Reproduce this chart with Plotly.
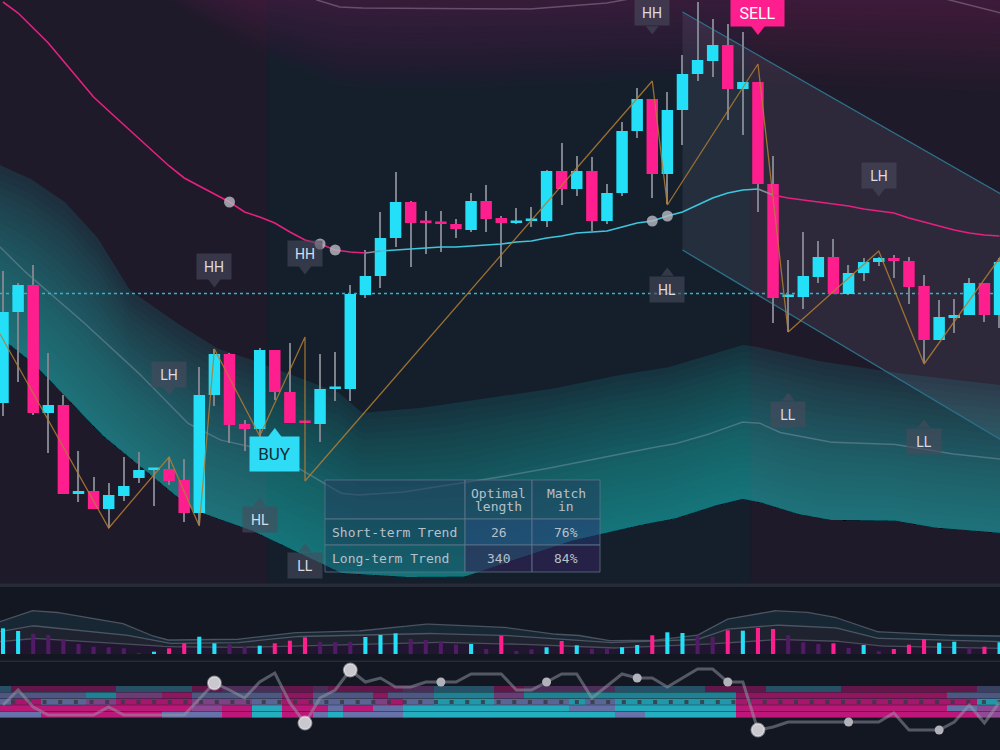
import numpy as np
import plotly.graph_objects as go

# ---------------- data ----------------
N = 67
bar_idx = list(range(N))
opens  = [197,288,315,187,195,106,109,91,104,122,130,131,120,87,205,246,176,171,250,208,178,176,211,211,305,324,362,398,378,377,376,370,399,382,377,379,379,429,411,429,379,407,469,501,426,490,526,539,555,511,518,416,303,303,323,343,306,327,338,342,339,314,260,282,285,317,285]
highs  = [329,317,335,247,205,149,123,117,143,148,131,143,141,233,251,247,180,252,250,257,178,246,248,315,350,388,428,399,389,389,381,407,415,384,392,393,430,457,444,443,416,478,512,501,508,545,598,581,576,568,518,444,340,368,359,361,335,342,343,345,343,325,300,301,322,317,342]
lows   = [184,218,185,147,106,98,91,72,99,117,94,115,78,75,194,157,149,163,200,177,177,158,199,199,302,312,353,333,346,348,362,368,368,333,376,373,373,395,404,369,376,404,462,402,396,455,519,523,480,465,388,277,268,291,317,306,305,319,334,322,296,237,260,267,285,278,272]
closes = [288,315,187,195,106,109,91,105,114,130,131,119,87,205,246,175,171,250,208,177,177,211,212,306,324,362,398,377,377,376,371,399,381,377,379,380,429,411,429,379,407,469,501,426,490,526,540,555,511,518,416,302,304,324,343,306,327,338,342,339,313,260,283,285,317,285,338]

# long-term moving average
ma = [598,587,572,557,539,521,503,489,475,461,447,434,422,414,406,398,388,383,377,368,360,356,350,348,347,349,350,351,352,353,353,354,355,356,358,359,362,364,367,368,369,373,377,379,384,388,395,402,407,410,411,405,402,400,398,396,394,391,389,387,382,378,374,370,367,365,364]
ma_dots = [15, 21, 22, 43, 44]

# zigzag swing line
zz_x = [-0.2, 7, 11, 13, 14, 17, 20, 20, 43, 44, 50, 52, 58, 61, 66.1]
zz_y = [266, 72, 143, 74, 251, 164, 263, 119, 519, 395, 536, 268, 349, 236, 344]

# support (teal) band
tu_x = [-0.2, 2.0, 4.2, 6.4, 8.4, 12.2, 14.4, 17.5, 22.3, 23.8, 28.3, 32.7, 37.1, 41.5, 44.2, 49.0, 50.1, 54.6, 61.2, 66.1]
tu_y = [435, 420, 397, 360, 310, 270, 250, 235, 207, 187, 193, 203, 213, 227, 233, 255, 253, 237, 223, 215]
tl_x = [-0.2, 2.0, 6.4, 12.6, 16.4, 22.3, 26.1, 30.5, 37.1, 41.5, 44.2, 46.8, 49.0, 50.1, 52.3, 54.6, 58.9, 61.2, 66.1]
tl_y = [263, 237, 167, 90, 70, 27, 23, 23, 57, 73, 80, 93, 101, 98, 87, 80, 80, 73, 67]
tm_x = [-0.2, 1.1, 4.2, 8.6, 12.2, 14.4, 17.5, 22.3, 23.4, 26.1, 30.5, 34.9, 38.2, 42.0, 44.2, 46.2, 49.0, 50.1, 51.3, 54.6, 58.9, 62.3, 66.1]
tm_y = [353, 333, 293, 233, 177, 160, 150, 107, 105, 107, 117, 128, 138, 150, 155, 163, 178, 177, 168, 158, 156, 147, 141]

# resistance (pink) band
pk_x = [-0.2, 10.9, 13.0, 17.5, 22.3, 26.3, 32.9, 39.5, 46.2, 52.8, 59.4, 66.1]
pk_y = [640, 600, 580, 542, 513, 510, 512, 518, 520, 515, 512, 508]
pm_x = [20.0, 20.8, 22.3, 23.8, 34.9, 40.0, 42.2, 61.9, 66.1]
pm_y = [606, 600, 593, 592, 591, 597, 603, 603, 587]

# falling channel
ch_x = [45.0, 66.1]
ch_top = [588, 406]
ch_bot = [350, 160]

level_line = 306.5

# swing labels
lab_text = ["HH", "HH", "LH", "HL", "LL", "HH", "HL", "LH", "LL", "LL"]
lab_x    = [14.0, 20.0, 11.0, 17.0, 20.0, 43.0, 44.0, 58.0, 52.0, 61.0]
lab_y    = [334, 347, 226, 81, 35, 587, 311, 425, 186, 159]
lab_dir  = ["down", "down", "down", "up", "up", "down", "up", "down", "up", "up"]

sig_text = ["BUY", "SELL"]
sig_x = [18.0, 50.0]
sig_y = [146, 587]

# volume
volume = [25.7,23,20,19,14.7,10,7.3,6.7,5.7,1,2.3,5.7,10.7,17.3,10.7,9.7,7.3,8.3,10.7,13.3,16.7,12,12,12,17,19,20.7,15,14,12.7,9.3,10,5,18.3,3,4.7,6.7,13,8.7,5.3,5.3,6.7,9,18.7,21.7,21,18,17.3,23.7,23.3,26,25,18.7,11.7,10,10.7,6,9,2.7,5,9.3,14.7,11.3,12.3,6.3,7.3,11.7]
vol_active = [1,1,0,0,0,0,0,0,0,0,1,1,1,1,1,0,0,1,1,1,1,0,0,0,1,1,1,0,0,0,0,1,0,1,0,0,1,1,1,0,0,1,1,1,1,1,0,0,1,1,1,1,0,0,0,1,0,1,0,1,1,1,1,1,0,1,1]
vu_x = [-0.2, 1.9, 3.3, 7.9, 9.7, 10.9, 15.2, 19.0, 23.0, 25.6, 27.8, 32.9, 36.2, 38.0, 40.0, 42.8, 45.9, 47.9, 51.0, 53.0, 55.0, 57.9, 61.6, 66.1]
vu_y = [32.3, 43.3, 42.3, 30.7, 19, 14, 14, 21.3, 22.3, 25.7, 30, 27.3, 20, 19, 13.3, 13.3, 18, 34.7, 43.3, 42.3, 37.3, 22.3, 19, 18]
vm_x = [-0.2, 1.9, 7.9, 10.9, 15.2, 19.0, 27.8, 32.9, 40.0, 45.9, 47.9, 51.0, 55.0, 57.9, 66.1]
vm_y = [22.3, 28.3, 19.7, 10.7, 10.7, 17.3, 20.7, 19, 11.3, 14, 24.7, 29, 26.7, 15.7, 12.3]
vl_x = [-0.2, 1.9, 7.9, 10.9, 15.2, 27.8, 32.9, 40.0, 45.9, 51.0, 55.0, 57.9, 66.1]
vl_y = [12.3, 15.7, 10.7, 7.3, 6.3, 12, 10.7, 5.7, 9, 14.7, 13.3, 8, 5.7]

# oscillator + regime heat rows
osc = [45,60,43,35,35,35,35,43,35,35,35,35,35,51,67,60,52,68,77,47,27,52,60,80,68,72,63,63,68,68,68,76,76,76,60,60,68,76,76,52,64,76,72,72,63,72,81,81,68,68,20,23,28,28,28,28,28,28,28,37,20,20,20,28,45,27,48]
osc_big = [14, 20, 23, 50]
osc_small = [29, 36, 42, 48, 56, 62]
heat_rows = [
    "TKK KKK KK TTT TT KK PP PP KK P K KK K K PP TTTT KK PPP P PP TT TTTT KK KK TTTTT KKK KKKK KK LL",
    "LLL LLL CC PPP KK LL LL LL KK L L LL K L LL CCCC PP CCC C CC CC CCCC CC KK KKKKK KKK KKKK LL LL",
    "LKK LLL PP KKK KK PP PP LL KK L L LL P K LL CCCC LL LLL C LL CC CCCC CC KK KKKKK KKK KKKK KK CC",
    "KKK KKK KK KKK KK PP KK CC KK K L KK L L CC CCCC CC CCC L LL CC CCCC CC KK KKKKK KKK KKKK LL PP",
    "LLL KKK KK KKK LL LL KK CC KK L C LL L L CC CCCC CC CCC C CC LL CCCC CC KK KKKKK KKK KKKK KK PP",
]
heat_code = {"T": 0.7, "C": 1.0, "L": 0.25, "P": -0.3, "K": -1.0}

# stats table
tbl_head = [["", ""], ["Optimal", "length"], ["Match", "in"]]
tbl_rows = ["Short-term Trend", "Long-term Trend"]
tbl_len = ["26", "340"]
tbl_match = ["76%", "84%"]

# ---------------- styling ----------------
CYAN = "#24dff8"
PINK = "#ff1e8e"
PURP = "#511c65"
WICK = "#7e828d"
XR = [-0.199, 66.03]
Y_RANGE = [15, 600]
Y_DOM = [0.22, 1.0]
W, H = 1000, 750

def to_paper(v):
    return Y_DOM[0] + (v - Y_RANGE[0]) / (Y_RANGE[1] - Y_RANGE[0]) * (Y_DOM[1] - Y_DOM[0])

fig = go.Figure()
xs = np.linspace(-0.2, 66.1, 400)

def poly(xa, lo, hi, color, xa_name="x", ya_name="y"):
    fig.add_trace(go.Scatter(x=np.concatenate([xa, xa[::-1]]), y=np.concatenate([lo, hi[::-1]]),
                             fill="toself", fillcolor=color, mode="lines", line=dict(width=0),
                             xaxis=xa_name, yaxis=ya_name, hoverinfo="skip", showlegend=False))

# pink resistance gradient (strongest at top)
pb = np.interp(xs, pk_x, pk_y)
ptop = np.full_like(xs, 640.0)
NP = 22
for k in range(NP):
    lo = pb + (ptop - pb) * k / (NP + 1.0)
    poly(xs, lo, ptop, "rgba(110,25,95,0.036)")

# teal support gradient (strongest near lower edge)
tu = np.interp(xs, tu_x, tu_y)
tl = np.interp(xs, tl_x, tl_y)
poly(xs, tl, tu, "rgba(30,175,185,0.12)")
NT = 24
for k in range(1, NT + 1):
    poly(xs, tl, tl + (tu - tl) * k / NT, "rgba(25,180,192,0.032)")

# channel
cx = np.array(ch_x)
poly(cx, np.array(ch_bot, float), np.array(ch_top, float), "rgba(195,200,230,0.09)")

# band center lines
fig.add_trace(go.Scatter(x=xs, y=np.interp(xs, tm_x, tm_y), mode="lines",
                         line=dict(color="rgba(165,175,185,0.35)", width=1.5), hoverinfo="skip", showlegend=False))
fig.add_trace(go.Scatter(x=pm_x, y=pm_y, mode="lines", line=dict(color="rgba(175,160,180,0.4)", width=1.5),
                         hoverinfo="skip", showlegend=False))
for edge in (ch_top, ch_bot):
    fig.add_trace(go.Scatter(x=ch_x, y=edge, mode="lines", line=dict(color="#2d6f88", width=1.3),
                             hoverinfo="skip", showlegend=False))
fig.add_trace(go.Scatter(x=XR, y=[level_line, level_line], mode="lines",
                         line=dict(color="#33b4cc", width=1.5, dash="dot"), hoverinfo="skip", showlegend=False))

# ---- overlay: candles ----
up = [c >= o for o, c in zip(opens, closes)]
ccol = [CYAN if u else PINK for u in up]
fig.add_trace(go.Bar(x=bar_idx, y=[h - l for h, l in zip(highs, lows)], base=lows, width=0.075,
                     marker=dict(color=WICK, line=dict(width=0)), xaxis="x", yaxis="y4",
                     hoverinfo="skip", showlegend=False))
fig.add_trace(go.Bar(x=bar_idx, y=[max(abs(c - o), 2.5) for o, c in zip(opens, closes)],
                     base=[min(o, c) for o, c in zip(opens, closes)], width=0.76,
                     marker=dict(color=ccol, line=dict(width=0)), xaxis="x", yaxis="y4",
                     hoverinfo="skip", showlegend=False))

# MA segments
segs = [(0, 24, "#e5207f"), (24, 25, "#8a8e9a"), (25, 50, "#3fc6df"), (50, 51, "#8a8e9a"), (51, 66, "#e5207f")]
for a, b, col in segs:
    fig.add_trace(go.Scatter(x=bar_idx[a:b + 1], y=ma[a:b + 1], mode="lines", line=dict(color=col, width=1.6),
                             xaxis="x", yaxis="y4", hoverinfo="skip", showlegend=False))
fig.add_trace(go.Scatter(x=ma_dots, y=[ma[i] for i in ma_dots], mode="markers",
                         marker=dict(size=11, color="rgba(185,185,195,0.8)"), xaxis="x", yaxis="y4",
                         hoverinfo="skip", showlegend=False))
fig.add_trace(go.Scatter(x=zz_x, y=zz_y, mode="lines", line=dict(color="rgba(180,125,50,0.85)", width=1.3),
                         xaxis="x", yaxis="y4", hoverinfo="skip", showlegend=False))

# labels
annotations = []
LBL_BG = "rgba(72,75,92,0.62)"
tri_x, tri_y, tri_s = [], [], []
for t, x, y, d in zip(lab_text, lab_x, lab_y, lab_dir):
    annotations.append(dict(x=x, y=to_paper(y), xref="x", yref="paper", xanchor="center", yanchor="middle",
                            text=t, showarrow=False, width=34, height=25,
                            bgcolor=LBL_BG, borderpad=0, font=dict(family="Roboto", size=14, color="#dcdce4")))
    tri_x.append(x)
    tri_y.append(y + 16 if d == "up" else y - 16)
    tri_s.append("triangle-up" if d == "up" else "triangle-down")
fig.add_trace(go.Scatter(x=tri_x, y=tri_y, mode="markers", cliponaxis=False,
                         marker=dict(symbol=tri_s, size=11, color=LBL_BG, line=dict(width=0)),
                         xaxis="x", yaxis="y4", hoverinfo="skip", showlegend=False))
annotations.append(dict(x=sig_x[0], y=to_paper(sig_y[0]), xref="x", yref="paper", xanchor="center", yanchor="middle",
                        text=sig_text[0], showarrow=False, width=49, height=34, bgcolor="#2fdcf5", borderpad=0,
                        font=dict(family="Roboto", size=17, color="#0d2c36")))
annotations.append(dict(x=sig_x[1], y=to_paper(sig_y[1]), xref="x", yref="paper", xanchor="center", yanchor="middle",
                        text=sig_text[1], showarrow=False, width=53, height=26, bgcolor="#ff1e8e", borderpad=0,
                        font=dict(family="Roboto", size=16, color="#ffffff")))
fig.add_trace(go.Scatter(x=sig_x, y=[sig_y[0] + 20, sig_y[1] - 16], mode="markers", cliponaxis=False,
                         marker=dict(symbol=["triangle-up", "triangle-down"], size=12,
                                     color=["#2fdcf5", "#ff1e8e"], line=dict(width=0)),
                         xaxis="x", yaxis="y4", hoverinfo="skip", showlegend=False))

# ---- volume panel ----
vu = np.interp(xs, vu_x, vu_y)
vm = np.interp(xs, vm_x, vm_y)
vl = np.interp(xs, vl_x, vl_y)
fig.add_trace(go.Scatter(x=xs, y=vl, mode="lines", line=dict(color="rgba(120,125,140,0.5)", width=1.3),
                         fill="tozeroy", fillcolor="rgba(80,25,95,0.22)", xaxis="x2", yaxis="y2",
                         hoverinfo="skip", showlegend=False))
fig.add_trace(go.Scatter(x=xs, y=vm, mode="lines", line=dict(color="rgba(120,125,140,0.55)", width=1.3),
                         fill="tonexty", fillcolor="rgba(60,62,80,0.30)", xaxis="x2", yaxis="y2",
                         hoverinfo="skip", showlegend=False))
fig.add_trace(go.Scatter(x=xs, y=vu, mode="lines", line=dict(color="rgba(120,125,140,0.55)", width=1.3),
                         fill="tonexty", fillcolor="rgba(30,65,80,0.40)", xaxis="x2", yaxis="y2",
                         hoverinfo="skip", showlegend=False))
vcol = [(CYAN if u else PINK) if a else PURP for u, a in zip(up, vol_active)]
fig.add_trace(go.Bar(x=bar_idx, y=volume, width=0.27, marker=dict(color=vcol, line=dict(width=0)),
                     xaxis="x2", yaxis="y5", hoverinfo="skip", showlegend=False))

# ---- oscillator panel ----
row_alpha = [0.4, 0.62, 0.75, 0.85, 0.88]
edges = np.linspace(64, 32, 6)
cs = [[0, "rgb(215,25,135)"], [0.5, "rgb(140,105,180)"], [1, "rgb(40,195,215)"]]
xe = np.arange(N + 1) - 0.5
for r, row in enumerate(heat_rows):
    s = row.replace(" ", "")
    s = (s + s[-1] * N)[:N]
    z = [[heat_code[c] for c in s]]
    fig.add_trace(go.Heatmap(x=xe, y=[edges[r + 1], edges[r]], z=z, zmin=-1, zmax=1, colorscale=cs,
                             showscale=False, opacity=row_alpha[r], xaxis="x3", yaxis="y3", hoverinfo="skip"))
sq_x = np.linspace(0.68, 66.0, 64)
fig.add_trace(go.Scatter(x=sq_x, y=[48] * len(sq_x), mode="markers",
                         marker=dict(symbol="square", size=4, color="rgba(55,58,70,0.85)"),
                         xaxis="x3", yaxis="y3", hoverinfo="skip", showlegend=False))
fig.add_trace(go.Scatter(x=bar_idx, y=osc, mode="lines", line=dict(color="rgba(150,155,168,0.5)", width=3),
                         xaxis="x3", yaxis="y3", hoverinfo="skip", showlegend=False))
fig.add_trace(go.Scatter(x=osc_big, y=[osc[i] for i in osc_big], mode="markers",
                         marker=dict(size=13, color="#c8c8ce", line=dict(width=2, color="rgba(255,255,255,0.45)")),
                         xaxis="x3", yaxis="y3", hoverinfo="skip", showlegend=False, cliponaxis=False))
fig.add_trace(go.Scatter(x=osc_small, y=[osc[i] for i in osc_small], mode="markers",
                         marker=dict(size=9, color="#b2b2ba"),
                         xaxis="x3", yaxis="y3", hoverinfo="skip", showlegend=False, cliponaxis=False))

# ---------------- layout ----------------
ax = dict(visible=False, showgrid=False, zeroline=False, range=XR, fixedrange=True)
shapes = [
    dict(type="rect", xref="x", yref="paper", x0=-0.5, x1=17.5, y0=0.22, y1=1, fillcolor="#1e1a2a", line_width=0, layer="below"),
    dict(type="rect", xref="x", yref="paper", x0=17.5, x1=49.5, y0=0.22, y1=1, fillcolor="#141f2b", line_width=0, layer="below"),
    dict(type="rect", xref="x", yref="paper", x0=49.5, x1=67, y0=0.22, y1=1, fillcolor="#1e1a29", line_width=0, layer="below"),
    dict(type="rect", xref="paper", yref="paper", x0=0, x1=1, y0=1 - 587 / H, y1=1 - 583.5 / H, fillcolor="#272b37", line_width=0),
    dict(type="rect", xref="paper", yref="paper", x0=0, x1=1, y0=1 - 662 / H, y1=1 - 660.5 / H, fillcolor="#272b37", line_width=0),
]

# table drawn as cells (pixel layout of the panel)
col_px = [325, 465, 532, 600]
row_px = [480, 519, 545, 572]
TBL_LINE = "rgba(95,118,140,0.75)"
TBL_FONT = dict(family="DejaVu Sans Mono", size=13, color="#b7c0ca")
cell_fill = [
    ["rgba(35,62,95,0.55)", "rgba(35,62,95,0.55)", "rgba(35,62,95,0.55)"],
    ["rgba(25,45,80,0.40)", "rgba(40,55,115,0.55)", "rgba(40,55,115,0.55)"],
    ["rgba(25,45,80,0.30)", "rgba(48,35,85,0.65)", "rgba(48,35,85,0.65)"],
]
for r in range(3):
    for c in range(3):
        shapes.append(dict(type="rect", xref="paper", yref="paper",
                           x0=col_px[c] / W, x1=col_px[c + 1] / W,
                           y0=1 - row_px[r + 1] / H, y1=1 - row_px[r] / H,
                           fillcolor=cell_fill[r][c], line=dict(color=TBL_LINE, width=1)))
for c in (1, 2):
    xc = (col_px[c] + col_px[c + 1]) / 2 / W
    annotations.append(dict(x=xc, y=1 - 493 / H, xref="paper", yref="paper", text=tbl_head[c][0], showarrow=False,
                            xanchor="center", yanchor="middle", font=TBL_FONT))
    annotations.append(dict(x=xc, y=1 - 506 / H, xref="paper", yref="paper", text=tbl_head[c][1], showarrow=False,
                            xanchor="center", yanchor="middle", font=TBL_FONT))
vals = [tbl_len, tbl_match]
for r in range(2):
    yc = 1 - (row_px[r + 1] + row_px[r + 2]) / 2 / H
    annotations.append(dict(x=(col_px[0] + 5) / W, y=yc, xref="paper", yref="paper", text=tbl_rows[r],
                            showarrow=False, xanchor="left", yanchor="middle", font=TBL_FONT))
    for c in (1, 2):
        xc = (col_px[c] + col_px[c + 1]) / 2 / W
        annotations.append(dict(x=xc, y=yc, xref="paper", yref="paper", text=vals[c - 1][r], showarrow=False,
                                xanchor="center", yanchor="middle", font=TBL_FONT))

fig.update_layout(
    width=W, height=H, margin=dict(l=0, r=0, t=0, b=0),
    paper_bgcolor="#131722", plot_bgcolor="#131722",
    showlegend=False, hovermode=False, barmode="overlay",
    xaxis=dict(ax, anchor="y", domain=[0, 1]),
    yaxis=dict(visible=False, range=Y_RANGE, domain=Y_DOM, anchor="x"),
    yaxis4=dict(visible=False, range=Y_RANGE, overlaying="y", anchor="x"),
    xaxis2=dict(ax, anchor="y2", domain=[0, 1]),
    yaxis2=dict(visible=False, range=[-7, 66], domain=[1 - 661 / H, 1 - 588 / H], anchor="x2"),
    yaxis5=dict(visible=False, range=[-7, 66], overlaying="y2", anchor="x2"),
    xaxis3=dict(ax, anchor="y3", domain=[0, 1]),
    yaxis3=dict(visible=False, range=[0, 87], domain=[0, 1 - 663 / H], anchor="x3"),
    shapes=shapes, annotations=annotations,
)
fig.write_html("out.html")
